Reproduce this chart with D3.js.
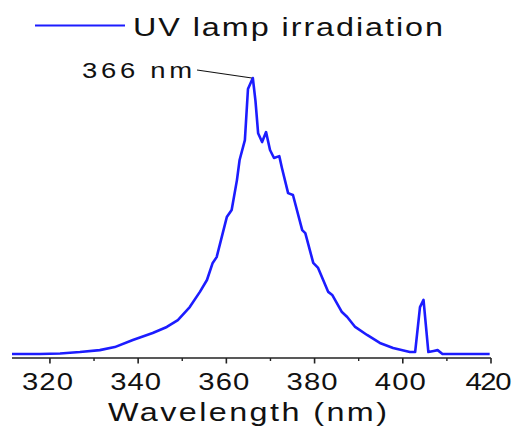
<!DOCTYPE html>
<html>
<head>
<meta charset="utf-8">
<script src="https://cdn.jsdelivr.net/npm/d3@7"></script>
<style>
  html, body { margin: 0; padding: 0; background: #fff; }
  svg { display: block; }
  text { font-family: "Liberation Sans", Arial, sans-serif; fill: #111; }
</style>
</head>
<body>
<svg id="chart" width="518" height="427"></svg>
<script>
// Emission spectrum of the UV lamp (normalised intensity)
const wavelengthNm = [311.4, 317.7, 322.3, 326.8, 331.3, 334.7, 338.8, 343.3, 346.5, 349.0,
  351.7, 354.0, 355.6, 356.9, 357.8, 360.1, 361.2, 362.4, 363.0, 364.2,
  364.9, 366.0, 366.6, 367.2, 368.1, 369.0, 369.9, 370.8, 372.0, 372.6,
  374.0, 375.1, 377.2, 377.9, 379.7, 380.8, 383.1, 384.0, 386.2, 387.4,
  389.2, 391.9, 394.8, 397.8, 401.6, 402.8, 403.9, 404.7, 405.8, 407.0,
  407.9, 409.0, 419.7];
const intensity = [0.000, 0.000, 0.002, 0.007, 0.014, 0.025, 0.051, 0.076, 0.098, 0.123,
  0.170, 0.225, 0.268, 0.330, 0.351, 0.496, 0.522, 0.630, 0.703, 0.775,
  0.960, 1.000, 0.917, 0.800, 0.768, 0.804, 0.739, 0.710, 0.717, 0.674,
  0.583, 0.576, 0.449, 0.438, 0.330, 0.312, 0.225, 0.214, 0.152, 0.134,
  0.098, 0.069, 0.040, 0.022, 0.007, 0.007, 0.170, 0.196, 0.007, 0.011,
  0.014, 0.000, 0.000];
const majorTicks = [320, 340, 360, 380, 400, 420];
const minorTicks = [330, 350, 370, 390, 410];
const seriesName = "UV lamp irradiation";
const peakLabel = "366 nm";
const peakWavelength = 366;
const xTitle = "Wavelength (nm)";

const svg = d3.select("#chart");
const blue = "#1c1cff";
const widen = 1.22; // horizontal glyph stretch of the lettering

// Wide, letter-spaced label: starts at x0 and spans `width` pixels
function wideText(parent, str, x0, y0, size, width, anchor) {
  const g = parent.append("g").attr("transform", `translate(${x0},${y0}) scale(${widen},1)`);
  return g.append("text")
    .attr("font-size", size)
    .attr("text-anchor", anchor || "start")
    .attr("textLength", width / widen)
    .attr("lengthAdjust", "spacing")
    .text(str);
}

const x = d3.scaleLinear().domain([311.4, 420]).range([12, 491]);
const y = d3.scaleLinear().domain([-0.0145, 1]).range([358, 78]);

// spectrum
const data = wavelengthNm.map((w, i) => ({ w, v: intensity[i] }));
svg.append("path")
  .datum(data)
  .attr("fill", "none")
  .attr("stroke", blue)
  .attr("stroke-width", 2.6)
  .attr("stroke-linejoin", "round")
  .attr("d", d3.line().x(d => x(d.w)).y(d => y(d.v)));

// x axis: baseline, major and minor ticks
const axisY = y.range()[0];
const axisG = svg.append("g").attr("transform", `translate(0,${axisY})`);
axisG.append("line")
  .attr("x1", x.range()[0]).attr("x2", x.range()[1])
  .attr("stroke", "#222").attr("stroke-width", 1.6);
axisG.selectAll(".major").data(majorTicks).join("line")
  .attr("x1", d => x(d)).attr("x2", d => x(d))
  .attr("y1", 0).attr("y2", 5.5)
  .attr("stroke", "#222").attr("stroke-width", 1.6);
axisG.selectAll(".minor").data(minorTicks).join("line")
  .attr("x1", d => x(d)).attr("x2", d => x(d))
  .attr("y1", 0).attr("y2", 3)
  .attr("stroke", "#222").attr("stroke-width", 1.4);
majorTicks.forEach(t => {
  const w = t === 420 ? 46 : 51;
  wideText(axisG, t, x(t) - 2.5 - w / 2, 32, 24, w);
});

// axis title
wideText(svg, xTitle, 108, 420.5, 26.5, 279);

// legend
svg.append("line")
  .attr("x1", 35).attr("x2", 125)
  .attr("y1", 25.5).attr("y2", 25.5)
  .attr("stroke", blue).attr("stroke-width", 2.2);
wideText(svg, seriesName, 133, 35.7, 26.5, 310);

// peak annotation
const peakV = intensity[wavelengthNm.indexOf(peakWavelength)];
svg.append("line")
  .attr("x1", 197).attr("y1", 70)
  .attr("x2", x(peakWavelength) - 1).attr("y2", y(peakV))
  .attr("stroke", "#111").attr("stroke-width", 1.1);
wideText(svg, peakLabel, 82, 78.3, 22.5, 110);
</script>
</body>
</html>
